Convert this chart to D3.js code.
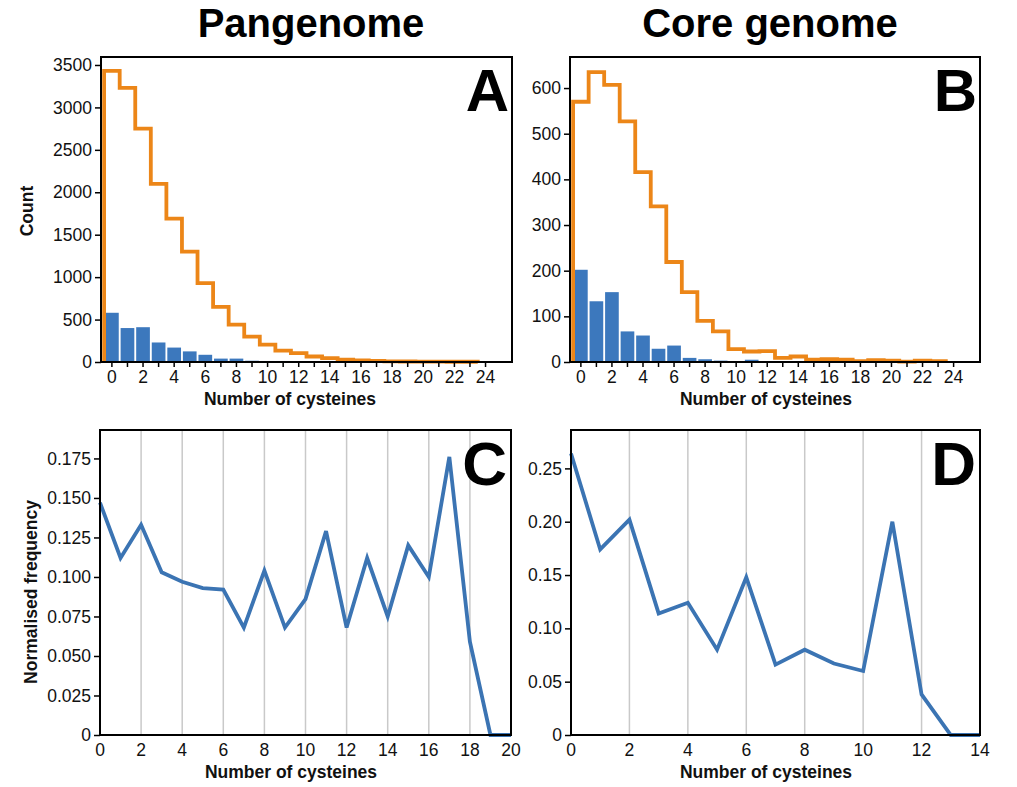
<!DOCTYPE html>
<html>
<head>
<meta charset="utf-8">
<script src="https://cdn.jsdelivr.net/npm/d3@7"></script>
<style>
  body { margin: 0; background: #fff; }
  svg { display: block; font-family: "Liberation Sans", Arial, sans-serif; }
</style>
</head>
<body>
<svg id="chart" width="1017" height="787"></svg>
<script>
// ---------- data ----------
const cysteineBins = [0,1,2,3,4,5,6,7,8,9,10,11,12,13,14,15,16,17,18,19,20,21,22,23];
const panAllCounts = [3430,3230,2750,2100,1690,1300,930,650,440,300,205,135,105,65,45,28,20,14,8,6,5,4,3,3];
const panSubCounts = [580,400,410,230,170,125,85,40,40,15,12,12,3,2,0,0,0,0,0,0,0,0,0,0];
const coreAllCounts = [570,635,607,527,416,341,219,153,90,67,28,23,24,9,12,5,6,5,2,4,3,1,3,2];
const coreSubCounts = [202,133,153,67,58,29,36,9,6,3,0,5,0,0,0,0,0,0,0,0,0,0,0,0];

const panFreqX = [0,1,2,3,4,5,6,7,8,9,10,11,12,13,14,15,16,17,18,19,20];
const panFreq = [0.147,0.112,0.133,0.103,0.097,0.093,0.092,0.068,0.104,0.068,0.086,0.129,0.068,0.112,0.075,0.120,0.100,0.176,0.059,0,0];
const coreFreqX = [0,1,2,3,4,5,6,7,8,9,10,11,12,13,14];
const coreFreq = [0.264,0.174,0.202,0.114,0.124,0.080,0.148,0.066,0.080,0.067,0.060,0.200,0.038,0,0];

const histXTicks = [0,2,4,6,8,10,12,14,16,18,20,22,24];
const histXMinorTicks = [0,1,2,3,4,5,6,7,8,9,10,11,12,13,14,15,16,17,18,19,20,21,22,23,24];
const panYTicks = [0,500,1000,1500,2000,2500,3000,3500];
const coreYTicks = [0,100,200,300,400,500,600];
const panFreqXTicks = [0,2,4,6,8,10,12,14,16,18,20];
const panFreqYTicks = [0,0.025,0.05,0.075,0.1,0.125,0.15,0.175];
const coreFreqXTicks = [0,2,4,6,8,10,12,14];
const coreFreqYTicks = [0,0.05,0.1,0.15,0.2,0.25];

const columnTitles = ["Pangenome", "Core genome"];
const panelLetters = ["A","B","C","D"];

// ---------- style ----------
const ORANGE = "#ec8618";
const BLUE_BAR = "#3c78bd";
const BLUE_LINE = "#3b74b3";
const GRID = "#c9c9c9";
const TICK_FS = 17.5;
const AXT_FS = 17.5;

const svg = d3.select("#chart");

function frame(g, b) {
  g.append("rect").attr("x", b.l).attr("y", b.t).attr("width", b.r - b.l).attr("height", b.b - b.t)
    .attr("fill", "none").attr("stroke", "#000").attr("stroke-width", 2);
}

function yAxis(b, y, ticks, fmt) {
  const g = svg.append("g").attr("transform", `translate(${b.l},0)`);
  const ax = d3.axisLeft(y).tickValues(ticks).tickFormat(fmt).tickSize(6).tickPadding(3);
  g.call(ax);
  g.select(".domain").remove();
  g.selectAll(".tick line").attr("stroke", "#000").attr("stroke-width", 1.5);
  g.selectAll(".tick text").attr("font-size", TICK_FS).attr("fill", "#111")
    .style("font-family", "Liberation Sans, Arial, sans-serif");
}

function xAxis(b, x, ticks, minor, fmt, tickLen) {
  const g = svg.append("g").attr("transform", `translate(0,${b.b})`);
  if (minor) {
    g.selectAll("line.minor").data(minor).enter().append("line")
      .attr("x1", d => x(d)).attr("x2", d => x(d)).attr("y1", 0).attr("y2", tickLen)
      .attr("stroke", "#000").attr("stroke-width", 1.5);
  }
  g.selectAll("text").data(ticks).enter().append("text")
    .attr("x", d => x(d)).attr("y", 21)
    .attr("text-anchor", "middle").attr("font-size", TICK_FS).attr("fill", "#111")
    .text(fmt);
}

function axisTitleX(xc, yb, txt) {
  svg.append("text").attr("x", xc).attr("y", yb).attr("text-anchor", "middle")
    .attr("font-size", AXT_FS).attr("font-weight", "bold").attr("fill", "#111").text(txt);
}
function axisTitleY(xc, yc, txt) {
  svg.append("text").attr("transform", `translate(${xc},${yc}) rotate(-90)`)
    .attr("text-anchor", "middle").attr("dominant-baseline", "central")
    .attr("font-size", AXT_FS).attr("font-weight", "bold").attr("fill", "#111").text(txt);
}
function letter(b, txt, dx, fs) {
  svg.append("text").attr("x", b.r - dx).attr("y", b.t + 11 + fs * 0.716)
    .attr("text-anchor", "end").attr("font-size", fs).attr("font-weight", "bold")
    .attr("fill", "#000").text(txt);
}

// ---------- histogram panels ----------
function histPanel(b, all, sub, yMax, yTicks, L) {
  const x = d3.scaleLinear().domain([-0.7, 25.7]).range([b.l, b.r]);
  const y = d3.scaleLinear().domain([0, yMax]).range([b.b, b.t]);
  const g = svg.append("g");
  g.selectAll("rect.bar").data(cysteineBins.map((c, i) => ({c, v: sub[i]})).filter(d => d.v > 0))
    .enter().append("rect")
    .attr("x", d => x(d.c - 0.44)).attr("width", d => x(d.c + 0.44) - x(d.c - 0.44))
    .attr("y", d => y(d.v)).attr("height", d => y(0) - y(d.v))
    .attr("fill", BLUE_BAR);
  const pts = [[-0.5, 0]];
  cysteineBins.forEach((c, i) => { pts.push([c - 0.5, all[i]]); pts.push([c + 0.5, all[i]]); });
  pts.push([cysteineBins[cysteineBins.length - 1] + 0.5, 0]);
  g.append("path").datum(pts)
    .attr("d", d3.line().x(d => x(d[0])).y(d => y(d[1])))
    .attr("fill", "none").attr("stroke", ORANGE).attr("stroke-width", 3.8)
    .attr("stroke-linejoin", "miter");
  frame(svg, b);
  yAxis(b, y, yTicks, d => d);
  xAxis(b, x, histXTicks, histXMinorTicks, d => d, 5);
  letter(b, L, 3, 60);
}

// ---------- frequency panels ----------
function freqPanel(b, xs, vals, xMax, yMax, xTicks, yTicks, yFmt, L) {
  const x = d3.scaleLinear().domain([0, xMax]).range([b.l, b.r]);
  const y = d3.scaleLinear().domain([0, yMax]).range([b.b, b.t]);
  const g = svg.append("g");
  g.selectAll("line.grid").data(xTicks.filter(t => t > 0 && t < xMax)).enter().append("line")
    .attr("x1", d => x(d)).attr("x2", d => x(d)).attr("y1", b.t).attr("y2", b.b)
    .attr("stroke", GRID).attr("stroke-width", 1.5);
  g.append("path").datum(xs.map((c, i) => [c, vals[i]]))
    .attr("d", d3.line().x(d => x(d[0])).y(d => y(d[1])))
    .attr("fill", "none").attr("stroke", BLUE_LINE).attr("stroke-width", 3.8)
    .attr("stroke-linejoin", "miter");
  frame(svg, b);
  yAxis(b, y, yTicks, yFmt);
  xAxis(b, x, xTicks, null, d => d, 0);
  letter(b, L, 4, 62);
}

const bA = {l: 101, r: 512, t: 57, b: 362};
const bB = {l: 570, r: 980, t: 57, b: 362};
const bC = {l: 100, r: 511, t: 430, b: 735};
const bD = {l: 571, r: 980, t: 430, b: 735};

histPanel(bA, panAllCounts, panSubCounts, 3594, panYTicks, panelLetters[0]);
histPanel(bB, coreAllCounts, coreSubCounts, 668, coreYTicks, panelLetters[1]);
freqPanel(bC, panFreqX, panFreq, 20, 0.193, panFreqXTicks, panFreqYTicks,
  d => d === 0 ? "0" : d3.format(".3f")(d), panelLetters[2]);
freqPanel(bD, coreFreqX, coreFreq, 14, 0.286, coreFreqXTicks, coreFreqYTicks,
  d => d === 0 ? "0" : d3.format(".2f")(d), panelLetters[3]);

// titles
svg.append("text").attr("x", 311).attr("y", 37).attr("text-anchor", "middle")
  .attr("font-size", 40).attr("font-weight", "bold").attr("fill", "#000").text(columnTitles[0]);
svg.append("text").attr("x", 770).attr("y", 37).attr("text-anchor", "middle")
  .attr("font-size", 40).attr("font-weight", "bold").attr("fill", "#000").text(columnTitles[1]);

// axis titles
axisTitleX(290, 405, "Number of cysteines");
axisTitleX(766, 405, "Number of cysteines");
axisTitleX(291, 778, "Number of cysteines");
axisTitleX(766, 778, "Number of cysteines");
axisTitleY(27, 211, "Count");
axisTitleY(31, 592, "Normalised frequency");
</script>
</body>
</html>
